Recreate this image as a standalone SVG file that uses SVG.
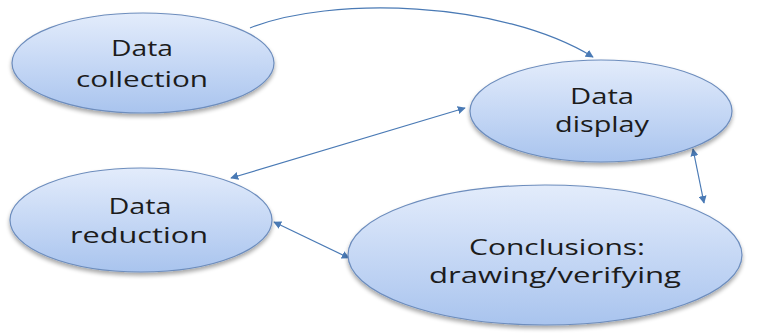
<svg xmlns="http://www.w3.org/2000/svg" width="761" height="333" viewBox="0 0 761 333">
<defs>
<linearGradient id="g" x1="0" y1="0" x2="0" y2="1">
<stop offset="0" stop-color="#e3ecfb"/>
<stop offset="0.5" stop-color="#c6d8f5"/>
<stop offset="1" stop-color="#a9c4ee"/>
</linearGradient>
<filter id="sh" x="-10%" y="-10%" width="120%" height="130%">
<feGaussianBlur in="SourceAlpha" stdDeviation="2"/>
<feOffset dy="3"/>
<feComponentTransfer><feFuncA type="linear" slope="0.35"/></feComponentTransfer>
<feMerge><feMergeNode/><feMergeNode in="SourceGraphic"/></feMerge>
</filter>
<marker id="ah" viewBox="0 0 10 10" refX="9" refY="5" markerWidth="8" markerHeight="8" markerUnits="userSpaceOnUse" orient="auto-start-reverse">
<path d="M0,0 L10,5 L0,10 z" fill="#4a7ab5"/>
</marker>
</defs>
<style>
.node ellipse{fill:url(#g);stroke:#6d8dbd;stroke-width:1.2;filter:url(#sh)}
.node text{font-family:"Open Sans","Liberation Sans",sans-serif;font-size:22px;fill:#1c1c1c;text-anchor:middle}
.conn path{fill:none;stroke:#4a7ab5;stroke-width:1.2}
</style>
<rect width="761" height="333" fill="#ffffff"/>
<g class="conn">
<path d="M250,28 C330,-4 500,0 593,57" marker-end="url(#ah)"/>
<path d="M231,178 L465,108" marker-start="url(#ah)" marker-end="url(#ah)"/>
<path d="M274,222 L349,258" marker-start="url(#ah)" marker-end="url(#ah)"/>
<path d="M693,149 L704,203" marker-start="url(#ah)" marker-end="url(#ah)"/>
</g>
<g id="collection" class="node">
<ellipse cx="143" cy="63" rx="131" ry="50"/>
<text x="142" y="56" textLength="62" lengthAdjust="spacingAndGlyphs">Data</text>
<text x="142" y="87" textLength="132" lengthAdjust="spacingAndGlyphs">collection</text>
</g>
<g id="display" class="node">
<ellipse cx="601" cy="111" rx="131" ry="51"/>
<text x="602" y="104" textLength="64" lengthAdjust="spacingAndGlyphs">Data</text>
<text x="602" y="132" textLength="94" lengthAdjust="spacingAndGlyphs">display</text>
</g>
<g id="reduction" class="node">
<ellipse cx="141" cy="220" rx="131" ry="52"/>
<text x="140" y="214" textLength="63" lengthAdjust="spacingAndGlyphs">Data</text>
<text x="139" y="243" textLength="138" lengthAdjust="spacingAndGlyphs">reduction</text>
</g>
<g id="conclusions" class="node">
<ellipse cx="545" cy="255" rx="197" ry="70"/>
<text x="557" y="255" textLength="176" lengthAdjust="spacingAndGlyphs">Conclusions:</text>
<text x="555" y="283" textLength="252" lengthAdjust="spacingAndGlyphs">drawing/verifying</text>
</g>
</svg>
